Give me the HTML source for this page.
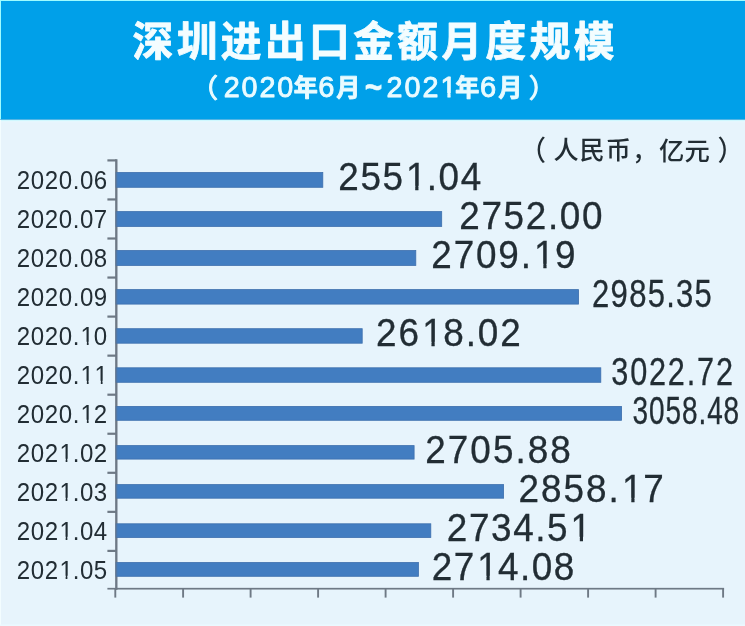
<!DOCTYPE html>
<html lang="zh-CN">
<head>
<meta charset="utf-8">
<title>深圳进出口金额月度规模</title>
<style>
html,body{margin:0;padding:0;background:#e7f4fc;}
body{width:745px;height:626px;overflow:hidden;}
svg{display:block;}
text{font-family:"Liberation Sans","Noto Sans CJK SC",sans-serif;fill:#222d34;font-kerning:none;}
.t1{font-weight:700;fill:#f4fdff;stroke:#f4fdff;stroke-width:0.8px;stroke-linejoin:round;}
.t2{fill:#e9fbff;stroke:#e9fbff;stroke-width:0.9px;stroke-linejoin:round;}
.t2c{font-weight:700;fill:#e9fbff;stroke:#e9fbff;stroke-width:0.9px;stroke-linejoin:round;}
.u{font-weight:500;}
.up{stroke:#222d34;stroke-width:0.5px;}
.v{stroke:#222d34;stroke-width:0.3px;}
.b{fill:#427dc1;stroke:#3d6fad;stroke-width:0.8px;}
.a{fill:#6e7985;}
</style>
</head>
<body>
<svg width="745" height="626" viewBox="0 0 745 626">
<defs>
<clipPath id="c1"><path clip-rule="evenodd" d="M-50 -35.17H123.58V14.65H-50ZM55.36 -3.64H62.3V2.95H55.36ZM65.41 -3.64H72.12V2.95H65.41Z"/></clipPath>
<clipPath id="c2"><path clip-rule="evenodd" d="M-50 -46.1H200.56V19.21H-50ZM71.62 -4.02H80.16V2.65H71.62ZM83.47 -4.02H91.7V2.65H83.47Z"/></clipPath>
<clipPath id="c3"><path clip-rule="evenodd" d="M-50 -46.1H202.22V19.21H-50ZM108.19 -4.02H116.72V2.65H108.19ZM120.03 -4.02H128.27V2.65H120.03Z"/></clipPath>
<clipPath id="c4"><path clip-rule="evenodd" d="M-50 -30.08H144.82V12.54H-50ZM66.8 -2.87H72.99V2.5H66.8ZM74.81 -2.87H80.81V2.5H74.81Z"/></clipPath>
<clipPath id="c5"><path clip-rule="evenodd" d="M-50 -46.1H202.6V19.21H-50ZM49.17 -4.02H57.7V2.65H49.17ZM61.01 -4.02H69.24V2.65H61.01Z"/></clipPath>
<clipPath id="c6"><path clip-rule="evenodd" d="M-50 -30.08H144.82V12.54H-50ZM66.8 -2.87H72.99V2.5H66.8ZM74.81 -2.87H80.81V2.5H74.81ZM81.34 -2.87H87.54V2.5H81.34ZM89.35 -2.87H95.35V2.5H89.35Z"/></clipPath>
<clipPath id="c7"><path clip-rule="evenodd" d="M-50 -30.08H144.82V12.54H-50ZM66.8 -2.87H72.99V2.5H66.8ZM74.81 -2.87H80.81V2.5H74.81Z"/></clipPath>
<clipPath id="c8"><path clip-rule="evenodd" d="M-50 -30.08H144.82V12.54H-50ZM44.69 -2.87H50.89V2.5H44.69ZM52.7 -2.87H58.7V2.5H52.7Z"/></clipPath>
<clipPath id="c9"><path clip-rule="evenodd" d="M-50 -30.08H144.82V12.54H-50ZM44.69 -2.87H50.89V2.5H44.69ZM52.7 -2.87H58.7V2.5H52.7Z"/></clipPath>
<clipPath id="c10"><path clip-rule="evenodd" d="M-50 -46.1H203.2V19.21H-50ZM108.89 -4.02H117.43V2.65H108.89ZM120.73 -4.02H128.97V2.65H120.73Z"/></clipPath>
<clipPath id="c11"><path clip-rule="evenodd" d="M-50 -30.08H144.82V12.54H-50ZM44.69 -2.87H50.89V2.5H44.69ZM52.7 -2.87H58.7V2.5H52.7Z"/></clipPath>
<clipPath id="c12"><path clip-rule="evenodd" d="M-50 -46.1H200.57V19.21H-50ZM130.05 -4.02H138.58V2.65H130.05ZM141.89 -4.02H150.12V2.65H141.89Z"/></clipPath>
<clipPath id="c13"><path clip-rule="evenodd" d="M-50 -30.08H144.82V12.54H-50ZM44.69 -2.87H50.89V2.5H44.69ZM52.7 -2.87H58.7V2.5H52.7Z"/></clipPath>
<clipPath id="c14"><path clip-rule="evenodd" d="M-50 -46.1H199.98V19.21H-50ZM48.42 -4.02H56.96V2.65H48.42ZM60.26 -4.02H68.5V2.65H60.26Z"/></clipPath>
</defs>
<rect x="0" y="0" width="745" height="626" fill="#e7f4fc"/>
<rect x="0" y="0" width="745" height="119.6" fill="#00a0e9"/>
<rect x="0" y="0" width="745" height="1" fill="#9ffcff"/>
<rect x="0" y="0" width="1" height="120" fill="#9ffcff"/>
<rect x="0" y="119.6" width="745" height="1.6" fill="#c9f8ff" opacity="0.85"/>
<rect x="0" y="121.2" width="745" height="1.2" fill="#e9f9ff" opacity="0.8"/>
<rect x="0" y="119" width="745" height="0.7" fill="#1488c6" opacity="0.6"/>
<rect x="0" y="120" width="1" height="506" fill="#f3fdff"/>
<rect x="0" y="624.5" width="745" height="1.5" fill="#ebf9ff"/>
<rect class="a" x="115.2" y="159.30" width="2.2" height="430.50"/>
<rect class="a" x="107.4" y="587.85" width="616.7" height="1.7"/>
<rect class="a" x="107.4" y="159.30" width="9" height="2.2"/>
<rect class="a" x="107.4" y="198.35" width="9" height="2.2"/>
<rect class="a" x="107.4" y="237.40" width="9" height="2.2"/>
<rect class="a" x="107.4" y="276.45" width="9" height="2.2"/>
<rect class="a" x="107.4" y="315.50" width="9" height="2.2"/>
<rect class="a" x="107.4" y="354.55" width="9" height="2.2"/>
<rect class="a" x="107.4" y="393.60" width="9" height="2.2"/>
<rect class="a" x="107.4" y="432.65" width="9" height="2.2"/>
<rect class="a" x="107.4" y="471.70" width="9" height="2.2"/>
<rect class="a" x="107.4" y="510.75" width="9" height="2.2"/>
<rect class="a" x="107.4" y="549.80" width="9" height="2.2"/>
<rect class="a" x="114.35" y="588.70" width="1.9" height="8.9"/>
<rect class="a" x="182.15" y="588.70" width="1.9" height="8.9"/>
<rect class="a" x="249.65" y="588.70" width="1.9" height="8.9"/>
<rect class="a" x="317.15" y="588.70" width="1.9" height="8.9"/>
<rect class="a" x="384.65" y="588.70" width="1.9" height="8.9"/>
<rect class="a" x="452.15" y="588.70" width="1.9" height="8.9"/>
<rect class="a" x="519.65" y="588.70" width="1.9" height="8.9"/>
<rect class="a" x="587.15" y="588.70" width="1.9" height="8.9"/>
<rect class="a" x="654.65" y="588.70" width="1.9" height="8.9"/>
<rect class="a" x="722.15" y="588.70" width="1.9" height="8.9"/>
<rect class="b" x="116.1" y="172.50" width="206.7" height="14.80"/>
<rect class="b" x="116.1" y="211.60" width="325.6" height="14.80"/>
<rect class="b" x="116.1" y="250.50" width="299.7" height="14.90"/>
<rect class="b" x="116.1" y="289.60" width="462.5" height="14.50"/>
<rect class="b" x="116.1" y="328.70" width="246.1" height="14.50"/>
<rect class="b" x="116.1" y="367.80" width="484.7" height="14.50"/>
<rect class="b" x="116.1" y="406.40" width="505.5" height="13.90"/>
<rect class="b" x="116.1" y="445.60" width="298.0" height="13.50"/>
<rect class="b" x="116.1" y="484.60" width="387.5" height="13.60"/>
<rect class="b" x="116.1" y="523.80" width="314.7" height="13.70"/>
<rect class="b" x="116.1" y="562.50" width="302.3" height="13.80"/>
<rect class="a" x="115.2" y="159.30" width="2.2" height="430.50" opacity="0.35"/>
<text class="t1" font-size="40.7" x="132.56 176.69 220.81 264.94 309.06 353.19 397.31 441.44 485.56 529.69 573.81" y="55.89">深圳进出口金额月度规模</text>
<text class="t2" font-size="26.26" transform="translate(190.18 96.98) scale(1.0586 1)" x="0" y="0" style="stroke-width:1px">（</text>
<text class="t2" font-size="29.31" transform="translate(223.71 96.71) scale(0.9800 1)" x="0 18.23 36.46 54.69" y="0">2020</text>
<text class="t2c" font-size="23.52" transform="translate(293.76 95.83) scale(1.0228 1)" x="0" y="0">年</text>
<text class="t2" font-size="29.31" transform="translate(318.28 96.71) scale(0.9909 1)" x="0" y="0">6</text>
<text class="t2c" font-size="24.33" transform="translate(336.35 95.96) scale(0.9875 1)" x="0" y="0">月</text>
<text class="t2" font-size="37.29" transform="translate(364.86 99.05) scale(0.8042 1)" x="0" y="0" style="stroke-width:0.5px;font-weight:700">~</text>
<text class="t2" font-size="29.31" transform="translate(386.41 96.71) scale(0.9800 1)" x="0 18.4 36.79 55.19" y="0" clip-path="url(#c1)">2021</text>
<text class="t2c" font-size="23.52" transform="translate(455.36 95.83) scale(1.0228 1)" x="0" y="0">年</text>
<text class="t2" font-size="29.31" transform="translate(479.88 96.71) scale(0.9909 1)" x="0" y="0">6</text>
<text class="t2c" font-size="24.33" transform="translate(498.15 95.96) scale(0.9875 1)" x="0" y="0">月</text>
<text class="t2" font-size="26.26" transform="translate(528.82 96.98) scale(1.0586 1)" x="0" y="0" style="stroke-width:1px">）</text>
<text class="u" font-size="27.82" transform="translate(519.71 160.27) scale(0.9444 1)" x="0" y="0">（</text>
<text class="u" font-size="25.13" x="553.4 579.6 605.8" y="159.36">人民币</text>
<text class="u" font-size="25.42" transform="translate(632.33 159.65) scale(0.9554 1)" x="0" y="0">，</text>
<text class="u" font-size="25.35" x="659.04 684.49" y="159.52">亿元</text>
<text class="u" font-size="27.82" transform="translate(717.52 160.27) scale(0.9444 1)" x="0" y="0">）</text>
<text class="l" font-size="25.07" transform="translate(16.79 188.51) scale(0.9600 1)" x="0 14.54 29.09 43.63 58.17 65.74 80.28" y="0">2020.06</text>
<text class="v" font-size="38.42" transform="translate(338.3 189.77) scale(0.9600 1)" x="0 23.04 46.07 70.45 92.14 104.49 127.52" y="0" clip-path="url(#c2)">2551.04</text>
<text class="l" font-size="25.07" transform="translate(16.79 227.51) scale(0.9600 1)" x="0 14.54 29.09 43.63 58.17 65.74 80.28" y="0">2020.07</text>
<text class="v" font-size="38.42" transform="translate(459.3 228.77) scale(0.9600 1)" x="0 23.08 46.16 69.24 92.33 104.71 127.8" y="0">2752.00</text>
<text class="l" font-size="25.07" transform="translate(16.79 266.51) scale(0.9600 1)" x="0 14.54 29.09 43.63 58.17 65.74 80.28" y="0">2020.08</text>
<text class="v" font-size="38.42" transform="translate(431.3 267.77) scale(0.9600 1)" x="0 23.27 46.55 69.82 93.09 107.02 128.95" y="0" clip-path="url(#c3)">2709.19</text>
<text class="l" font-size="25.07" transform="translate(16.79 305.51) scale(0.9600 1)" x="0 14.54 29.09 43.63 58.17 65.74 80.28" y="0">2020.09</text>
<text class="v" font-size="38.42" transform="translate(592.09 306.77) scale(0.8080 1)" x="0 22.92 45.85 68.77 91.7 103.93 126.86" y="0">2985.35</text>
<text class="l" font-size="25.07" transform="translate(16.79 344.51) scale(0.9600 1)" x="0 14.54 29.09 43.63 58.17 66.49 80.28" y="0" clip-path="url(#c4)">2020.10</text>
<text class="v" font-size="38.42" transform="translate(376.1 345.77) scale(0.9600 1)" x="0 23.33 48 69.98 93.31 105.94 129.27" y="0" clip-path="url(#c5)">2618.02</text>
<text class="l" font-size="25.07" transform="translate(16.79 383.51) scale(0.9600 1)" x="0 14.54 29.09 43.63 58.17 66.49 81.03" y="0" clip-path="url(#c6)">2020.11</text>
<text class="v" font-size="38.42" transform="translate(611.28 384.77) scale(0.7979 1)" x="0 23.64 47.29 70.93 94.58 107.53 131.17" y="0">3022.72</text>
<text class="l" font-size="25.07" transform="translate(16.79 422.51) scale(0.9600 1)" x="0 14.54 29.09 43.63 58.17 66.49 80.28" y="0" clip-path="url(#c7)">2020.12</text>
<text class="v" font-size="38.42" transform="translate(632.39 423.77) scale(0.7272 1)" x="0 22.69 45.39 68.08 90.77 102.78 125.47" y="0">3058.48</text>
<text class="l" font-size="25.07" transform="translate(16.79 461.51) scale(0.9600 1)" x="0 14.54 29.09 44.38 58.17 65.74 80.28" y="0" clip-path="url(#c8)">2021.02</text>
<text class="v" font-size="38.42" transform="translate(425.3 462.77) scale(0.9600 1)" x="0 23.47 46.95 70.42 93.9 106.68 130.15" y="0">2705.88</text>
<text class="l" font-size="25.07" transform="translate(16.79 500.51) scale(0.9600 1)" x="0 14.54 29.09 44.38 58.17 65.74 80.28" y="0" clip-path="url(#c9)">2021.03</text>
<text class="v" font-size="38.42" transform="translate(518.6 501.77) scale(0.9600 1)" x="0 23.41 46.83 70.24 93.65 107.72 129.79" y="0" clip-path="url(#c10)">2858.17</text>
<text class="l" font-size="25.07" transform="translate(16.79 539.51) scale(0.9600 1)" x="0 14.54 29.09 44.38 58.17 65.74 80.28" y="0" clip-path="url(#c11)">2021.04</text>
<text class="v" font-size="38.42" transform="translate(446.8 540.77) scale(0.9600 1)" x="0 23.04 46.07 69.11 92.15 104.49 128.88" y="0" clip-path="url(#c12)">2734.51</text>
<text class="l" font-size="25.07" transform="translate(16.79 578.51) scale(0.9600 1)" x="0 14.54 29.09 44.38 58.17 65.74 80.28" y="0" clip-path="url(#c13)">2021.05</text>
<text class="v" font-size="38.42" transform="translate(431.8 579.77) scale(0.9600 1)" x="0 22.95 47.25 68.86 91.81 104.07 127.03" y="0" clip-path="url(#c14)">2714.08</text>
</svg>
</body>
</html>
